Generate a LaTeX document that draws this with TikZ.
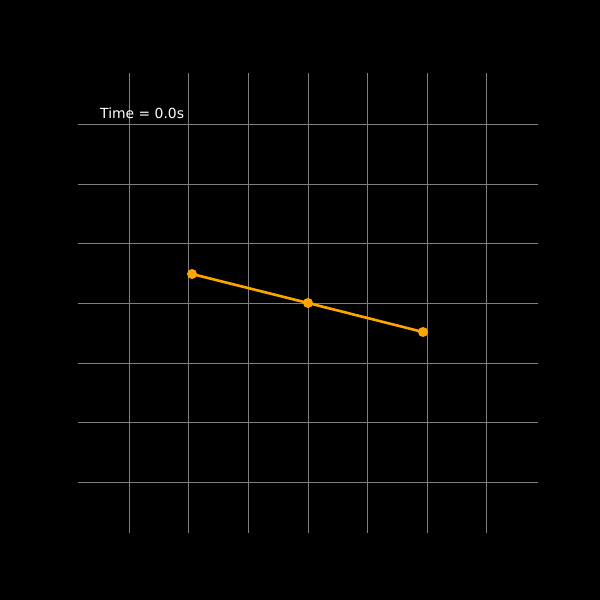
\documentclass[tikz,border=0pt]{standalone}
\usepackage{fontspec}
\setmainfont{DejaVu Sans}
\definecolor{gridgray}{RGB}{128,128,128}
\definecolor{traj}{RGB}{255,165,0}
\begin{document}
\begin{tikzpicture}[x=1pt,y=-1pt,
  gridline/.style={draw=gridgray,line width=0.8pt},
  rod/.style={draw=traj,line width=2.6pt},
  bob/.style={circle,fill=traj,inner sep=0pt,minimum size=10pt}]
\fill[black] (0,0) rectangle (600,600);
\useasboundingbox (0,0) rectangle (600,600);
\foreach \x in {129,188,248,308,367,427,486} \draw[gridline] (\x,73) -- (\x,533);
\foreach \y in {124,184,243,303,363,422,482} \draw[gridline] (78,\y) -- (538,\y);
\draw[rod] (192,274) -- (308,303) -- (423,332);
\node[bob] (p0) at (192,274) {};
\node[bob] (p1) at (308,303) {};
\node[bob] (p2) at (423,332) {};
\node[anchor=base west,text=white,font=\fontsize{13.9}{16}\selectfont,inner sep=0pt] (t) at (100,118) {Time = 0.0s};
\end{tikzpicture}
\end{document}
